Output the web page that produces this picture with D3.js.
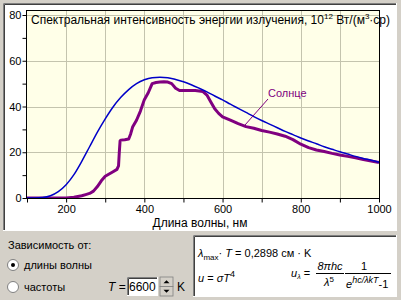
<!DOCTYPE html>
<html>
<head>
<meta charset="utf-8">
<script src="https://cdn.jsdelivr.net/npm/d3@7"></script>
<style>
  body { margin: 0; background: #d4d0c8; }
  svg { display: block; font-family: "Liberation Sans", Arial, sans-serif; }
</style>
</head>
<body>
<svg></svg>
<script>
// wavelength grid (nm) and values, 10^12 W/(m^3 sr)
let planckNm = [100,120,140,160,180,200,220,240,260,280,300,320,340,360,380,400,420,440,460,480,500,
  520,540,560,580,600,620,640,660,680,700,720,740,760,780,800,820,840,860,880,900,920,940,960,980,1000];
let planckVal = [0,0,0.2,1.0,2.8,5.8,10.2,16.0,22.4,28.8,34.6,39.8,44.0,47.4,50.0,51.7,52.6,52.8,52.6,51.8,50.8,
  49.5,48.0,46.4,44.6,42.9,41.0,39.2,37.4,35.6,33.9,32.3,30.7,29.1,27.7,26.2,24.9,23.7,22.4,21.3,20.2,19.2,18.2,17.3,16.5,15.6];

let sunNm = [100,150,200,220,240,250,260,270,280,290,300,310,320,330,334,336,338,340,350,360,365,370,380,390,400,
  410,420,430,440,450,460,470,480,490,500,510,520,530,540,550,560,570,580,590,600,620,640,660,680,700,
  720,740,760,780,800,820,840,860,880,900,920,940,960,980,1000];
let sunVal = [0,0,0,0.3,1,1.5,2,3,5,7.5,9.5,10.5,11.5,12.5,14,20,25,25.3,25.5,25.8,28,31,34,38,43,
  46,50,50.5,50.7,50.8,50.7,50,48,47,47,47,47,47,46.8,46.5,45,42,39,37,35.5,34,32.5,31.2,30.5,29.5,
  28.8,28,27,25.5,23.5,22,21,20.3,19.5,18.8,18.2,17.6,16.8,16.2,15.5];

let xTicks = [200,400,600,800,1000];
let yTicks = [0,20,40,60,80];

let config = { svg: {width: 401, height: 300}, plot: {} };
config.plot.left = 26.5;
config.plot.right = 379.5;
config.plot.top = 10.5;
config.plot.bottom = 198.5;

let svg = d3.select('svg')
  .attr('width', config.svg.width)
  .attr('height', config.svg.height);

// window background
svg.append('rect').attr('width', 401).attr('height', 300).attr('fill', '#d4d0c8');

// sunken white panel for the chart
sunken(svg, 3, 3, 394, 228, '#ffffff');

let x = d3.scaleLinear().domain([100, 1000]).range([27, 379]);
let y = d3.scaleLinear().domain([0, 80]).range([198, 15]);

// plot background
svg.append('rect')
  .attr('x', config.plot.left).attr('y', config.plot.top)
  .attr('width', config.plot.right - config.plot.left)
  .attr('height', config.plot.bottom - config.plot.top)
  .attr('fill', '#ffffe8');

// grid
let grid = svg.append('g').attr('stroke', '#c4c4ae').attr('stroke-width', 1);
grid.selectAll('line.v')
  .data(d3.range(200, 1000, 100))
  .enter().append('line')
  .attr('x1', d => Math.round(x(d)) + 0.5).attr('x2', d => Math.round(x(d)) + 0.5)
  .attr('y1', config.plot.top).attr('y2', config.plot.bottom);
grid.selectAll('line.h')
  .data([20, 40, 60, 80])
  .enter().append('line')
  .attr('y1', d => Math.round(y(d)) + 0.5).attr('y2', d => Math.round(y(d)) + 0.5)
  .attr('x1', config.plot.left).attr('x2', config.plot.right);

// axes
let axisX = d3.axisBottom(x).tickValues(d3.range(100, 1001, 100)).tickSize(4)
  .tickFormat(d => xTicks.includes(d) ? d : '');
let gx = svg.append('g').attr('transform', translate(0, 198.5)).call(axisX);
let axisY = d3.axisLeft(y).tickValues(d3.range(0, 81, 10)).tickSize(4)
  .tickFormat(d => yTicks.includes(d) ? d : '');
let gy = svg.append('g').attr('transform', translate(26.5, 0)).call(axisY);
[gx, gy].forEach(g => {
  g.select('.domain').remove();
  g.selectAll('text').attr('font-size', 11).attr('fill', '#000')
    .attr('font-family', '"Liberation Sans", Arial, sans-serif');
  g.selectAll('line').attr('stroke', '#000');
});
gx.selectAll('text').attr('dy', '0.75em').attr('y', 6);
gy.selectAll('text').attr('x', -5);

// curves
let clip = svg.append('clipPath').attr('id', 'clip').append('rect')
  .attr('x', config.plot.left).attr('y', config.plot.top)
  .attr('width', config.plot.right - config.plot.left)
  .attr('height', config.plot.bottom - config.plot.top);

let planck = planckNm.map((d, i) => [d, planckVal[i]]);
let sun = sunNm.map((d, i) => [d, sunVal[i]]);

svg.append('path').datum(sun)
  .attr('fill', 'none').attr('stroke', '#800080').attr('stroke-width', 3)
  .attr('stroke-linejoin', 'round')
  .attr('clip-path', 'url(#clip)')
  .attr('d', d3.line().x(d => x(d[0])).y(d => y(d[1])));

svg.append('path').datum(planck)
  .attr('fill', 'none').attr('stroke', '#0000c8').attr('stroke-width', 1.5)
  .attr('clip-path', 'url(#clip)')
  .attr('d', d3.line().curve(d3.curveMonotoneX).x(d => x(d[0])).y(d => y(d[1])));

// plot frame
svg.append('rect')
  .attr('x', config.plot.left).attr('y', config.plot.top)
  .attr('width', config.plot.right - config.plot.left)
  .attr('height', config.plot.bottom - config.plot.top)
  .attr('fill', 'none').attr('stroke', '#000');

// title
let title = svg.append('text').attr('x', 31).attr('y', 24).attr('font-size', 12);
title.append('tspan').text('Спектральная интенсивность энергии излучения, 10');
title.append('tspan').attr('font-size', 8).attr('dy', -5).text('12');
title.append('tspan').attr('dy', 5).text(' Вт/(м');
title.append('tspan').attr('font-size', 8).attr('dy', -5).text('3');
title.append('tspan').attr('dy', 5).text('·ср)');

// sun label with leader
svg.append('line').attr('x1', 268).attr('y1', 99).attr('x2', 245).attr('y2', 125)
  .attr('stroke', '#800080').attr('stroke-width', 1);
svg.append('text').attr('x', 268).attr('y', 97).attr('font-size', 11)
  .attr('fill', '#800080').text('Солнце');

// x axis title
svg.append('text').attr('x', 200).attr('y', 227).attr('font-size', 12)
  .attr('text-anchor', 'middle').text('Длина волны, нм');

// controls
svg.append('text').attr('x', 8).attr('y', 249).attr('font-size', 11).text('Зависимость от:');
radio(13, 265, true);
radio(13, 287, false);
svg.append('text').attr('x', 24).attr('y', 269).attr('font-size', 11).text('длины волны');
svg.append('text').attr('x', 24).attr('y', 291).attr('font-size', 11).text('частоты');

let tLab = svg.append('text').attr('x', 108).attr('y', 291).attr('font-size', 12);
tLab.append('tspan').attr('font-style', 'italic').text('T');
tLab.append('tspan').text(' =');
sunken(svg, 127, 277, 31, 19, '#ffffff');
svg.append('text').attr('x', 129).attr('y', 291).attr('font-size', 12).text('6600');
spinner(160, 277, 13, 19);
svg.append('text').attr('x', 177).attr('y', 291).attr('font-size', 12).text('K');

// formula box
sunken(svg, 193, 235, 204, 62, '#ffffff');
let f1 = svg.append('text').attr('x', 198).attr('y', 257).attr('font-size', 11);
f1.append('tspan').attr('font-style', 'italic').text('λ');
f1.append('tspan').attr('font-size', 8).attr('dy', 3).text('max');
f1.append('tspan').attr('dy', -3).text('· ');
f1.append('tspan').attr('font-style', 'italic').text('T');
f1.append('tspan').text(' = 0,2898 см · K');

let f2 = svg.append('text').attr('x', 198).attr('y', 282).attr('font-size', 11);
f2.append('tspan').attr('font-style', 'italic').text('u');
f2.append('tspan').text(' = ');
f2.append('tspan').attr('font-style', 'italic').text('σT');
f2.append('tspan').attr('font-size', 9).attr('dy', -5).text('4');

let f3 = svg.append('text').attr('x', 291).attr('y', 277).attr('font-size', 11);
f3.append('tspan').attr('font-style', 'italic').text('u');
f3.append('tspan').attr('font-size', 7).attr('dy', 2).attr('font-style', 'italic').text('λ');
f3.append('tspan').attr('dy', -2).text(' =');
svg.append('text').attr('x', 330).attr('y', 270).attr('font-size', 11)
  .attr('text-anchor', 'middle').attr('font-style', 'italic').text('8πhc');
let den = svg.append('text').attr('x', 329).attr('y', 286).attr('font-size', 11)
  .attr('text-anchor', 'middle');
den.append('tspan').attr('font-style', 'italic').text('λ');
den.append('tspan').attr('font-size', 8).attr('dy', -4).text('5');
svg.append('line').attr('x1', 316).attr('x2', 344).attr('y1', 273.5).attr('y2', 273.5)
  .attr('stroke', '#000');
svg.append('text').attr('x', 364).attr('y', 270).attr('font-size', 11)
  .attr('text-anchor', 'middle').text('1');
let den2 = svg.append('text').attr('x', 346).attr('y', 288).attr('font-size', 11);
den2.append('tspan').attr('font-style', 'italic').text('e');
den2.append('tspan').attr('font-size', 9).attr('dy', -5).attr('font-style', 'italic').text('hc/λkT');
den2.append('tspan').attr('dy', 5).text('-1');
svg.append('line').attr('x1', 345).attr('x2', 391).attr('y1', 273.5).attr('y2', 273.5)
  .attr('stroke', '#000');

function sunken(parent, x0, y0, w, h, fill) {
  let g = parent.append('g');
  g.append('rect').attr('x', x0).attr('y', y0).attr('width', w).attr('height', h).attr('fill', fill);
  g.append('path').attr('fill', 'none').attr('stroke', '#808080')
    .attr('d', `M${x0 + 0.5},${y0 + h}V${y0 + 0.5}H${x0 + w}`);
  g.append('path').attr('fill', 'none').attr('stroke', '#404040')
    .attr('d', `M${x0 + 1.5},${y0 + h - 1}V${y0 + 1.5}H${x0 + w - 1}`);
  g.append('path').attr('fill', 'none').attr('stroke', '#ffffff')
    .attr('d', `M${x0},${y0 + h - 0.5}H${x0 + w - 0.5}V${y0}`);
}

function radio(cx, cy, checked) {
  let g = svg.append('g');
  g.append('circle').attr('cx', cx).attr('cy', cy).attr('r', 5.5).attr('fill', '#ffffff')
    .attr('stroke', '#808080');
  if (checked) g.append('circle').attr('cx', cx).attr('cy', cy).attr('r', 2).attr('fill', '#000');
}

function spinner(x0, y0, w, h) {
  let g = svg.append('g');
  [0, 1].forEach(i => {
    let top = y0 + i * h / 2;
    g.append('rect').attr('x', x0).attr('y', top).attr('width', w).attr('height', h / 2)
      .attr('fill', '#d4d0c8').attr('stroke', '#808080').attr('stroke-width', 0.8);
    let cx = x0 + w / 2, cy = top + h / 4;
    let tri = i === 0
      ? `M${cx - 3},${cy + 1.5}L${cx + 3},${cy + 1.5}L${cx},${cy - 1.5}Z`
      : `M${cx - 3},${cy - 1.5}L${cx + 3},${cy - 1.5}L${cx},${cy + 1.5}Z`;
    g.append('path').attr('d', tri).attr('fill', '#000');
  });
}

function translate(x, y) {
  return 'translate(' + x + ',' + y + ')';
}
</script>
</body>
</html>
